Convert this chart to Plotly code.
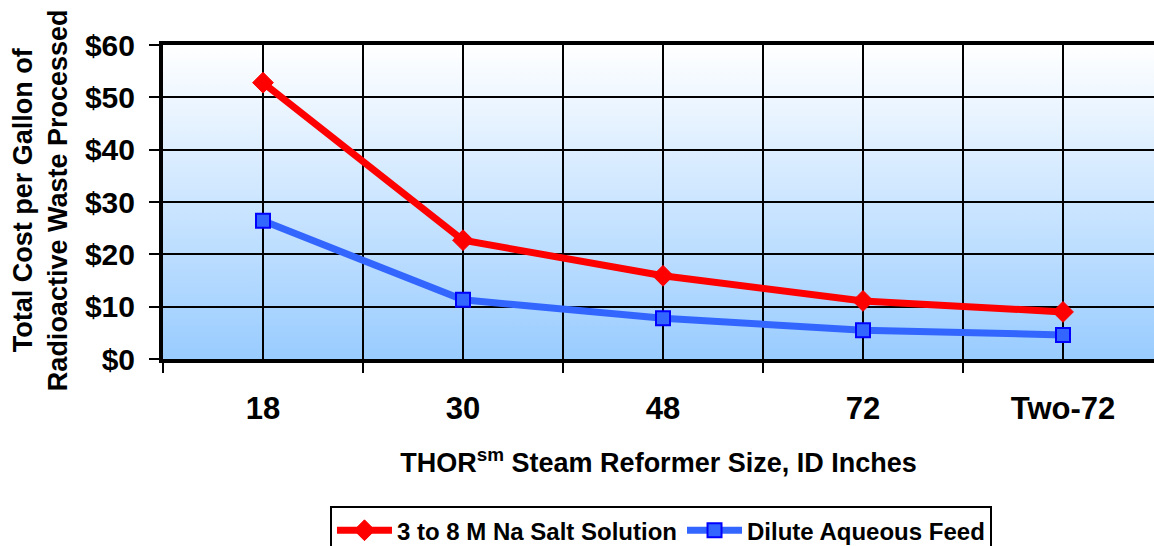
import base64
import plotly.graph_objects as go

categories = ["18", "30", "48", "72", "Two-72"]
salt_solution = [52.8, 22.7, 15.9, 11.1, 9.0]
dilute_feed = [26.4, 11.3, 7.8, 5.5, 4.6]
y_ticks = [0, 10, 20, 30, 40, 50, 60]
y_ticktext = ["$" + str(v) for v in y_ticks]

FONT = "Arial, 'Liberation Sans', sans-serif"
xpos = list(range(len(categories)))

svg = ('<svg xmlns="http://www.w3.org/2000/svg" width="100" height="100" preserveAspectRatio="none">'
       '<defs><linearGradient id="g" x1="0" y1="0" x2="0" y2="1">'
       '<stop offset="0" stop-color="#ffffff"/><stop offset="1" stop-color="#99ccff"/>'
       '</linearGradient></defs><rect width="100" height="100" fill="url(#g)"/></svg>')
svg_uri = "data:image/svg+xml;base64," + base64.b64encode(svg.encode()).decode()

fig = go.Figure()
fig.add_trace(go.Scatter(
    x=xpos, y=salt_solution, name="3 to 8 M Na Salt Solution", mode="lines+markers",
    line=dict(color="#ff0000", width=7),
    marker=dict(symbol="diamond", size=16, color="#ff0000", line=dict(color="#ff0000", width=1)),
))
fig.add_trace(go.Scatter(
    x=xpos, y=dilute_feed, name="Dilute Aqueous Feed", mode="lines+markers",
    line=dict(color="#3366ff", width=7),
    marker=dict(symbol="square", size=14, color="#3366ff", line=dict(color="#0000ff", width=2)),
))

fig.update_layout(
    width=1154, height=546,
    margin=dict(l=163, r=0, t=45, b=187),
    paper_bgcolor="white", plot_bgcolor="rgba(0,0,0,0)",
    font=dict(family=FONT, color="black"),
    images=[dict(source=svg_uri, xref="paper", yref="paper", x=0, y=1, sizex=1, sizey=1,
                 xanchor="left", yanchor="top", sizing="stretch", layer="below")],
    showlegend=True,
    legend=dict(orientation="h", xref="paper", x=0.1685, yref="container", y=0.073,
                xanchor="left", yanchor="top",
                bordercolor="black", borderwidth=2, bgcolor="white",
                font=dict(family=FONT, size=24, color="black", weight="bold"),
                itemwidth=55, tracegroupgap=0),
    annotations=[dict(
        text="Total Cost per Gallon of<br>Radioactive Waste Processed",
        xref="paper", yref="paper", x=-0.1241, y=0.506, xanchor="center", yanchor="middle",
        textangle=-90, showarrow=False,
        font=dict(family=FONT, size=27, color="black", weight="bold"),
    )],
)
fig.update_xaxes(
    range=[-0.5, 4.455], tickvals=xpos, ticktext=categories, ticks="",
    tickfont=dict(family=FONT, size=31, weight="bold"),
    showgrid=True, gridcolor="black", gridwidth=2,
    minor=dict(tickvals=[-0.5, 0.5, 1.5, 2.5, 3.5, 4.5], showgrid=True, gridcolor="black",
               gridwidth=2, ticks="outside", ticklen=10, tickwidth=2, tickcolor="black"),
    showline=True, linecolor="black", linewidth=4, mirror=True,
    zeroline=False, ticklabelstandoff=19, automargin=False,
    title=dict(text="THOR<sup>sm</sup> Steam Reformer Size, ID Inches",
               font=dict(family=FONT, size=27, weight="bold"), standoff=29),
)
fig.update_yaxes(
    range=[0, 60], tickvals=y_ticks, ticktext=y_ticktext,
    ticks="outside", ticklen=10, tickwidth=2, tickcolor="black",
    tickfont=dict(family=FONT, size=30, weight="bold"),
    showgrid=True, gridcolor="black", gridwidth=2,
    showline=True, linecolor="black", linewidth=4, mirror=False, zeroline=False,
    ticklabelstandoff=8, automargin=False,
)

fig.write_html("out.html", config={"displayModeBar": False},
               post_script="document.body.style.margin='0';")
